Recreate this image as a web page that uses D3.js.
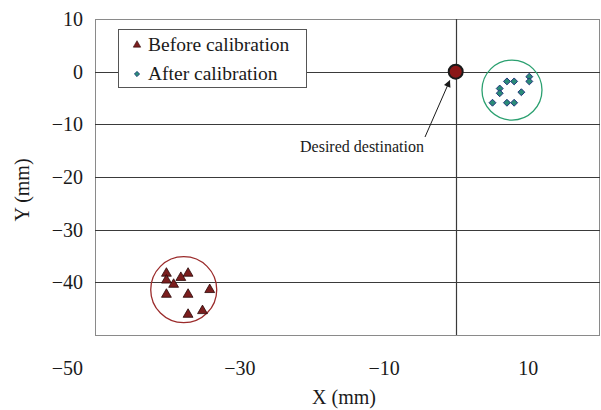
<!DOCTYPE html>
<html>
<head>
<meta charset="utf-8">
<script src="https://cdn.jsdelivr.net/npm/d3@7"></script>
<style>
  html, body { margin: 0; padding: 0; background: #fff; }
  svg { display: block; }
  text { font-family: "Liberation Serif", "Times New Roman", serif; fill: #1a1a1a; }
</style>
</head>
<body>
<svg id="chart" width="601" height="410"></svg>
<script>
// ---- data ----
const beforeX = [-40.1, -40.1, -38.1, -37.1, -39.1, -34.1, -40.1, -37.1, -35.1, -37.1];
const beforeY = [-38.3, -39.6, -39.1, -38.3, -40.4, -41.4, -42.3, -42.3, -45.4, -46.1];
const afterX  = [10.2, 10.2, 7.1, 8.1, 6.1, 6.1, 9.1, 5.1, 7.1, 8.1];
const afterY  = [-0.95, -1.85, -1.85, -1.85, -3.2, -4.1, -3.9, -5.9, -5.9, -5.9];
const destination = [0, 0];
const beforeCircleCenter = [-37.7, -41.4];
const afterCircleCenter = [7.8, -3.5];
const yTickValues = [10, 0, -10, -20, -30, -40, -50];
const xTickValues = [-30, -10, 10];
const gridY = [0, -10, -20, -30, -40];
const gridX = [0];
const seriesNames = ["Before calibration", "After calibration"];
const annotation = "Desired destination";

// ---- layout ----
const M = { left: 95, right: 600, top: 19, bottom: 335 };
const svg = d3.select("#chart");

const x = d3.scaleLinear().domain([-50, 20]).range([M.left, M.right]);
const y = d3.scaleLinear().domain([-50, 10]).range([M.bottom, M.top]);

const redFill = "#7B1E1E", redStroke = "#2a0808";
const tealFill = "#2A8C78", tealStroke = "#1E2F7A";
const fmt = d => String(d).replace("-", "\u2212");

// frame
svg.append("rect").attr("x", M.left + 0.5).attr("y", M.top + 0.5)
  .attr("width", M.right - M.left - 1).attr("height", M.bottom - M.top)
  .attr("fill", "none").attr("stroke", "#8a8a8a").attr("stroke-width", 1);

// gridlines
svg.append("g").selectAll("line").data(gridY).join("line")
  .attr("x1", M.left).attr("x2", M.right)
  .attr("y1", d => Math.round(y(d)) + 0.5).attr("y2", d => Math.round(y(d)) + 0.5)
  .attr("stroke", "#3a3a3a").attr("stroke-width", 1);
svg.append("g").selectAll("line").data(gridX).join("line")
  .attr("x1", d => Math.round(x(d)) + 0.5).attr("x2", d => Math.round(x(d)) + 0.5)
  .attr("y1", M.top).attr("y2", M.bottom)
  .attr("stroke", "#3a3a3a").attr("stroke-width", 1.2);

// Y axis labels
const yAxis = d3.axisLeft(y).tickValues(yTickValues).tickSize(0).tickPadding(12).tickFormat(fmt);
const yg = svg.append("g").attr("transform", `translate(${M.left},0)`).call(yAxis);
yg.select(".domain").remove();
yg.selectAll("text").attr("font-size", 20).attr("fill", "#1a1a1a")
  .attr("font-family", "Liberation Serif, Times New Roman, serif")
  .attr("dy", d => d === -50 ? "1.95em" : "0.32em");

// X axis labels
const xAxis = d3.axisBottom(x).tickValues(xTickValues).tickSize(0).tickPadding(0).tickFormat(fmt);
const xg = svg.append("g").attr("transform", `translate(0,${M.bottom})`).call(xAxis);
xg.select(".domain").remove();
xg.selectAll("text").attr("font-size", 20).attr("fill", "#1a1a1a")
  .attr("font-family", "Liberation Serif, Times New Roman, serif")
  .attr("y", 40).attr("dy", 0);

// axis titles
svg.append("text").attr("x", 344).attr("y", 404).attr("text-anchor", "middle")
  .attr("font-size", 20).text("X (mm)");
svg.append("text").attr("transform", "translate(29,190) rotate(-90)")
  .attr("text-anchor", "middle").attr("font-size", 20).text("Y (mm)");

// enclosing circles
svg.append("circle").attr("cx", x(beforeCircleCenter[0])).attr("cy", y(beforeCircleCenter[1]))
  .attr("r", 33).attr("fill", "none").attr("stroke", "#9B2B2B").attr("stroke-width", 1.3);
svg.append("circle").attr("cx", x(afterCircleCenter[0])).attr("cy", y(afterCircleCenter[1]))
  .attr("r", 30).attr("fill", "none").attr("stroke", "#2BA070").attr("stroke-width", 1.3);

// markers
const tri = d3.symbol().type(d3.symbolTriangle).size(42);
const dia = d3.symbol().type(d3.symbolSquare).size(24);
const beforeData = beforeX.map((v, i) => [v, beforeY[i]]);
const afterData = afterX.map((v, i) => [v, afterY[i]]);

svg.append("g").selectAll("path").data(beforeData).join("path")
  .attr("d", tri).attr("transform", d => `translate(${x(d[0])},${y(d[1])})`)
  .attr("fill", redFill).attr("stroke", redStroke).attr("stroke-width", 0.8);
svg.append("g").selectAll("path").data(afterData).join("path")
  .attr("d", dia).attr("transform", d => `translate(${x(d[0])},${y(d[1])}) rotate(45)`)
  .attr("fill", tealFill).attr("stroke", tealStroke).attr("stroke-width", 0.9);

// destination point
svg.append("circle").attr("cx", x(destination[0])).attr("cy", y(destination[1]))
  .attr("r", 7).attr("fill", "#8B1616").attr("stroke", "#1a1a1a").attr("stroke-width", 2);

// annotation arrow
const defs = svg.append("defs");
defs.append("marker").attr("id", "ah").attr("viewBox", "0 0 10 10")
  .attr("refX", 9).attr("refY", 5).attr("markerWidth", 9).attr("markerHeight", 7)
  .attr("markerUnits", "userSpaceOnUse").attr("orient", "auto")
  .append("path").attr("d", "M0,0 L10,5 L0,10 Z").attr("fill", "#1a1a1a");
svg.append("line").attr("x1", 425).attr("y1", 137)
  .attr("x2", x(destination[0]) - 6).attr("y2", y(destination[1]) + 9)
  .attr("stroke", "#1a1a1a").attr("stroke-width", 1).attr("marker-end", "url(#ah)");
svg.append("text").attr("x", 362).attr("y", 152).attr("text-anchor", "middle")
  .attr("font-size", 16).text(annotation);

// legend
const lg = svg.append("g");
lg.append("rect").attr("x", 118.5).attr("y", 29.5).attr("width", 188).attr("height", 58)
  .attr("fill", "#fff").attr("stroke", "#555").attr("stroke-width", 1);
lg.append("path").attr("d", d3.symbol().type(d3.symbolTriangle).size(24))
  .attr("transform", "translate(137,45)").attr("fill", redFill).attr("stroke", redStroke).attr("stroke-width", 0.6);
lg.append("path").attr("d", d3.symbol().type(d3.symbolSquare).size(14))
  .attr("transform", "translate(137,74) rotate(45)").attr("fill", tealFill).attr("stroke", tealStroke).attr("stroke-width", 0.7);
lg.append("text").attr("x", 148).attr("y", 51).attr("font-size", 19.5).text(seriesNames[0]);
lg.append("text").attr("x", 148).attr("y", 80).attr("font-size", 19.5).text(seriesNames[1]);
</script>
</body>
</html>
